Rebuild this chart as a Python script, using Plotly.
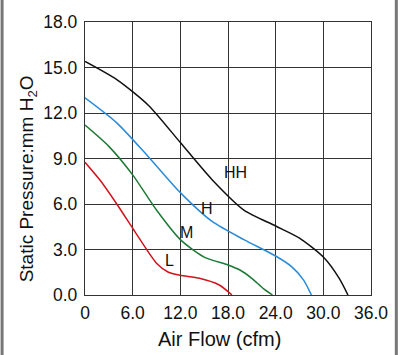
import plotly.graph_objects as go

# ---- data ----
hh_x = [0, 4, 8, 12, 16, 20, 24, 27, 30, 32, 33.1]
hh_y = [15.4, 14.2, 12.5, 10.05, 7.6, 5.6, 4.55, 3.75, 2.5, 1.1, 0.0]

h_x = [0, 4, 8, 12, 16, 20, 24, 26, 27.5, 28.5]
h_y = [13.0, 11.35, 9.1, 6.75, 4.85, 3.65, 2.57, 1.87, 1.0, 0.0]

m_x = [0, 3, 6, 9, 12, 15, 18, 19.5, 21, 22.5, 23.6]
m_y = [11.2, 9.8, 7.92, 5.6, 3.65, 2.5, 1.98, 1.65, 1.1, 0.4, 0.0]

l_x = [0, 2, 4, 6, 7, 9, 10.5, 12, 14.4, 16.9, 18.5]
l_y = [8.75, 7.5, 6.0, 4.4, 3.6, 2.1, 1.5, 1.3, 1.1, 0.66, 0.0]

series_names = ["HH", "H", "M", "L"]
series_colors = ["#111111", "#2a8ad6", "#1d7a35", "#d0141e"]

x_ticks = [0, 6, 12, 18, 24, 30, 36]
x_tick_text = ["0", "6.0", "12.0", "18.0", "24.0", "30.0", "36.0"]
y_ticks = [0, 3, 6, 9, 12, 15, 18]
y_tick_text = ["0.0", "3.0", "6.0", "9.0", "12.0", "15.0", "18.0"]

label_pos_x = [18.9, 15.4, 12.8, 10.6]
label_pos_y = [8.05, 5.7, 4.1, 2.3]

FONT = "Liberation Sans, Arial, sans-serif"

fig = go.Figure()
for xs, ys, name, col in zip([hh_x, h_x, m_x, l_x], [hh_y, h_y, m_y, l_y],
                             series_names, series_colors):
    fig.add_trace(go.Scatter(x=xs, y=ys, mode="lines", name=name,
                             line=dict(color=col, width=1.5, shape="spline", smoothing=0.7),
                             hoverinfo="skip"))

for name, lx, ly in zip(series_names, label_pos_x, label_pos_y):
    fig.add_annotation(x=lx, y=ly, text=name, showarrow=False,
                       xanchor="center", yanchor="middle",
                       font=dict(family=FONT, size=16, color="#111111"))

fig.add_annotation(xref="paper", yref="paper", x=0.47, y=-0.16,
                   xanchor="center", yanchor="middle",
                   text="Air Flow (cfm)", showarrow=False,
                   font=dict(family=FONT, size=20, color="#111111"))
fig.add_annotation(xref="paper", yref="paper", x=-0.198, y=0.425,
                   xanchor="center", yanchor="middle",
                   text="Static Pressure:mm H<sub>2</sub>O", textangle=-90, showarrow=False,
                   font=dict(family=FONT, size=19, color="#111111"))

# image frame edges
for xp in [(1.5 - 85) / 288, (398.5 - 85) / 288]:
    fig.add_shape(type="line", xref="paper", yref="paper", x0=xp, x1=xp,
                  y0=-0.25, y1=1.1, line=dict(color="#777777", width=3))

axis_common = dict(showgrid=True, gridcolor="#333333", gridwidth=1.3,
                   showline=True, linecolor="#333333", linewidth=1.3, mirror=True,
                   zeroline=False, ticks="", ticklen=0,
                   tickfont=dict(family=FONT, size=17.5, color="#111111"))

fig.update_xaxes(range=[0, 36], tickvals=x_ticks, ticktext=x_tick_text,
                 ticklabelstandoff=2, **axis_common)
fig.update_yaxes(range=[0, 18], tickvals=y_ticks, ticktext=y_tick_text,
                 ticklabelstandoff=3, **axis_common)

fig.update_layout(width=400, height=355, showlegend=False,
                  margin=dict(l=85, r=27, t=22, b=60),
                  paper_bgcolor="white", plot_bgcolor="white")

fig.write_html("out.html", config={"displayModeBar": False},
               post_script="document.body.style.margin='0';")
